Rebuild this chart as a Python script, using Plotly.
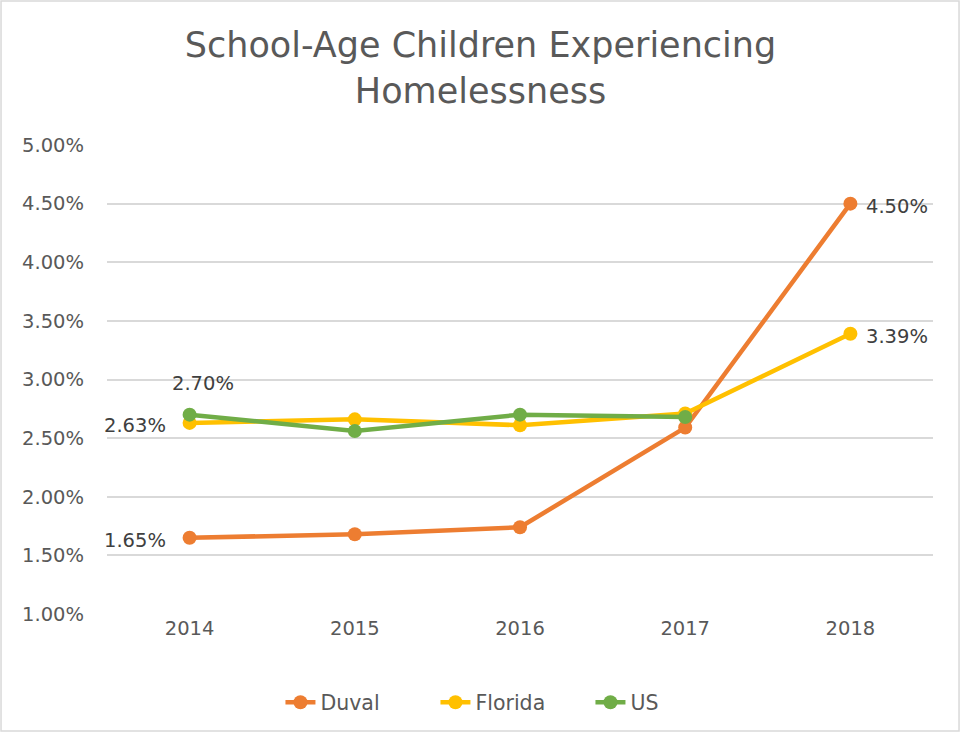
import plotly.graph_objects as go

years = ["2014", "2015", "2016", "2017", "2018"]
duval = [1.65, 1.68, 1.74, 2.59, 4.50]
florida = [2.63, 2.66, 2.61, 2.71, 3.39]
us = [2.70, 2.56, 2.70, 2.68, None]

colors = {"Duval": "#ED7D31", "Florida": "#FFC000", "US": "#70AD47"}
series = {"Duval": duval, "Florida": florida, "US": us}

# which points carry a data label, and on which side
labels = [
    ("Duval", 0, "left"), ("Duval", 4, "right"),
    ("Florida", 0, "left"), ("Florida", 4, "right"),
    ("US", 0, "above"),
]

FONT = "DejaVu Sans"
fig = go.Figure()
for name, vals in series.items():
    fig.add_trace(go.Scatter(
        x=years, y=vals, name=name, mode="lines+markers",
        line=dict(color=colors[name], width=4.5),
        marker=dict(color=colors[name], size=14),
        cliponaxis=False,
    ))

for name, i, side in labels:
    v = series[name][i]
    if side == "left":
        kw = dict(xanchor="right", yanchor="middle", xshift=-22, yshift=-3)
    elif side == "right":
        kw = dict(xanchor="left", yanchor="middle", xshift=14, yshift=-3)
    else:
        kw = dict(xanchor="center", yanchor="bottom", xshift=13, yshift=18)
    # category axis: annotation x given as the category index
    fig.add_annotation(x=i, y=v, xref="x", yref="y", text=f"{v:.2f}%", showarrow=False,
                       font=dict(family=FONT, size=19.5, color="#404040"), **kw)

fig.update_layout(
    width=961, height=733,
    margin=dict(l=107, r=28, t=145, b=119, autoexpand=False),
    paper_bgcolor="white", plot_bgcolor="white",
    title=dict(text="School-Age Children Experiencing<br>Homelessness",
               x=0.5, xanchor="center", y=0.922, yanchor="top",
               font=dict(family=FONT, size=35, color="#595959")),
    font=dict(family=FONT, color="#595959"),
    xaxis=dict(type="category", range=[-0.5, 4.5], showgrid=False, showline=False,
               ticks="", tickfont=dict(size=19.5, color="#595959"), zeroline=False),
    yaxis=dict(range=[1.0, 5.0], dtick=0.5, tickformat=".2f", ticksuffix="%",
               showgrid=True, gridcolor="#D9D9D9", gridwidth=1.5, zeroline=False,
               showline=False, tickfont=dict(size=19.5, color="#595959"), ticklabelstandoff=22),
    legend=dict(orientation="h", x=0.21, xanchor="left", y=-0.146, yanchor="top",
                font=dict(family=FONT, size=20.5, color="#595959"),
                traceorder="normal", entrywidth=110, entrywidthmode="pixels"),
    showlegend=True,
)
fig.add_shape(type="rect", xref="paper", yref="paper",
              x0=-0.1283, x1=1.0315, y0=-0.2495, y1=1.307,
              line=dict(color="#D9D9D9", width=1.5), fillcolor="rgba(0,0,0,0)", layer="below")
fig.write_html("out.html", config={"displayModeBar": False},
               post_script="document.body.style.margin='0';")
